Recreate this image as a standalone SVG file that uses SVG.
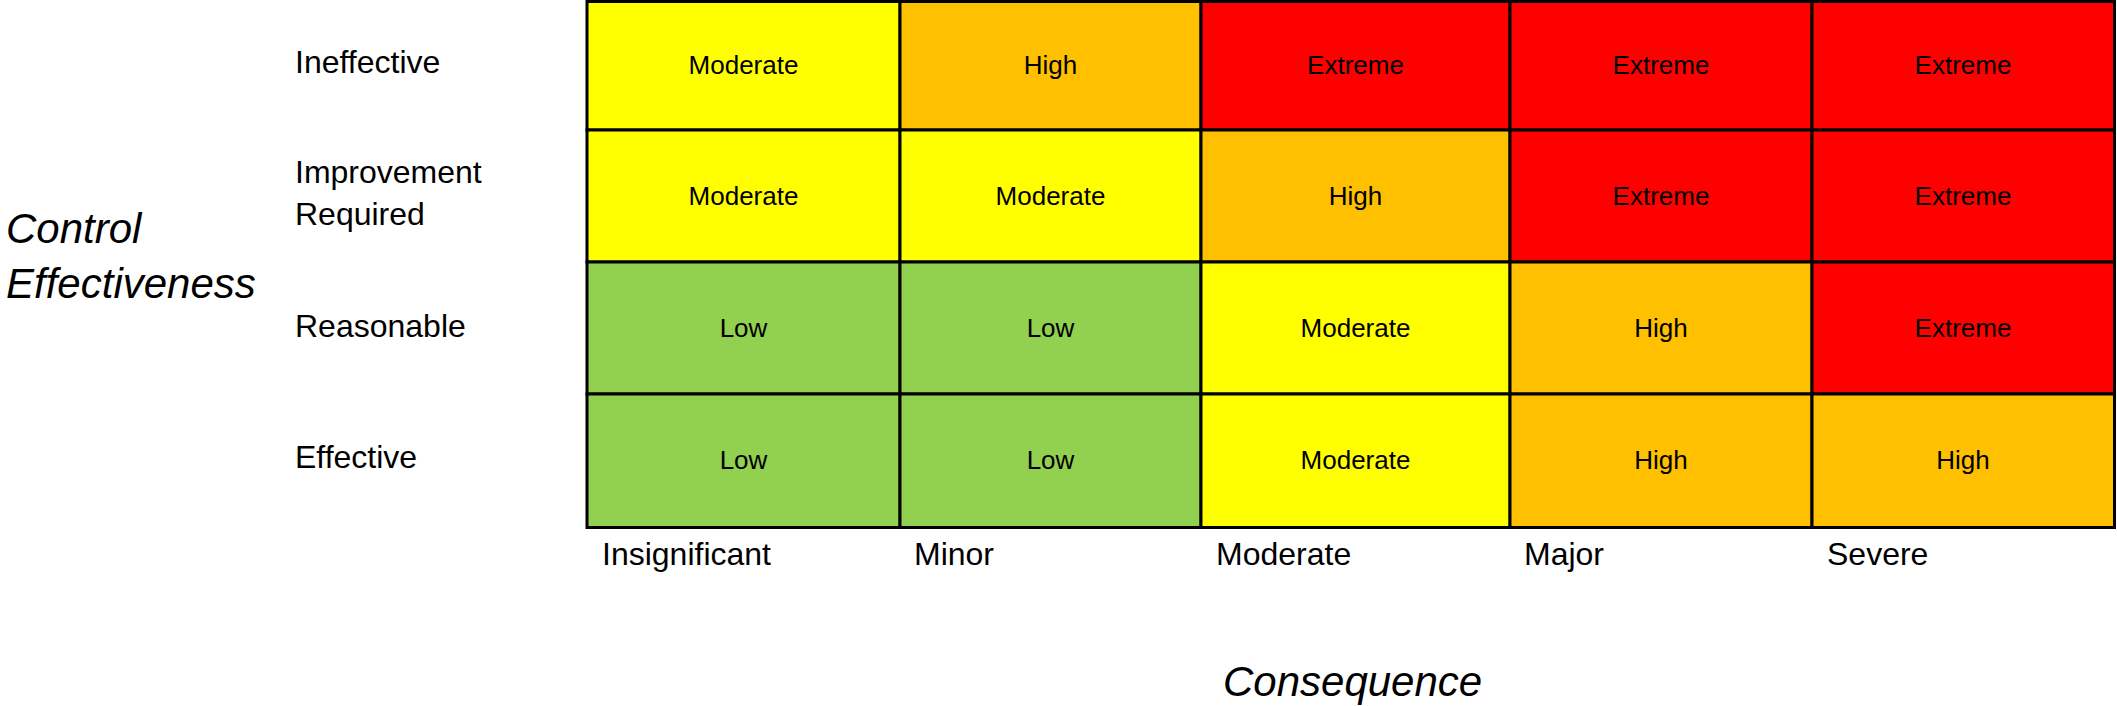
<svg xmlns="http://www.w3.org/2000/svg" width="2117" height="706" viewBox="0 0 2117 706">
<style>
.cell{stroke:#000;stroke-width:3}
.y{fill:#FFFF00}.o{fill:#FFC000}.r{fill:#FF0000}.g{fill:#92D050}
.ct{font-family:"Liberation Sans",Arial,sans-serif;font-size:26px;fill:#000;text-anchor:middle}
.lb{font-family:"Liberation Sans",Arial,sans-serif;font-size:32px;fill:#000}
.ax{font-family:"Liberation Sans",Arial,sans-serif;font-size:42px;font-style:italic;fill:#000}
</style>
<rect x="0" y="0" width="2117" height="706" fill="#fff"/>
<g id="matrix">
<g id="r1c1"><rect class="cell y" x="587" y="1.5" width="313" height="128.5"/><text class="ct" x="743.5" y="74">Moderate</text></g>
<g id="r1c2"><rect class="cell o" x="900" y="1.5" width="301" height="128.5"/><text class="ct" x="1050.5" y="74">High</text></g>
<g id="r1c3"><rect class="cell r" x="1201" y="1.5" width="309" height="128.5"/><text class="ct" x="1355.5" y="74">Extreme</text></g>
<g id="r1c4"><rect class="cell r" x="1510" y="1.5" width="302" height="128.5"/><text class="ct" x="1661" y="74">Extreme</text></g>
<g id="r1c5"><rect class="cell r" x="1812" y="1.5" width="302.5" height="128.5"/><text class="ct" x="1963" y="74">Extreme</text></g>

<g id="r2c1"><rect class="cell y" x="587" y="130" width="313" height="132"/><text class="ct" x="743.5" y="205">Moderate</text></g>
<g id="r2c2"><rect class="cell y" x="900" y="130" width="301" height="132"/><text class="ct" x="1050.5" y="205">Moderate</text></g>
<g id="r2c3"><rect class="cell o" x="1201" y="130" width="309" height="132"/><text class="ct" x="1355.5" y="205">High</text></g>
<g id="r2c4"><rect class="cell r" x="1510" y="130" width="302" height="132"/><text class="ct" x="1661" y="205">Extreme</text></g>
<g id="r2c5"><rect class="cell r" x="1812" y="130" width="302.5" height="132"/><text class="ct" x="1963" y="205">Extreme</text></g>

<g id="r3c1"><rect class="cell g" x="587" y="262" width="313" height="132"/><text class="ct" x="743.5" y="337">Low</text></g>
<g id="r3c2"><rect class="cell g" x="900" y="262" width="301" height="132"/><text class="ct" x="1050.5" y="337">Low</text></g>
<g id="r3c3"><rect class="cell y" x="1201" y="262" width="309" height="132"/><text class="ct" x="1355.5" y="337">Moderate</text></g>
<g id="r3c4"><rect class="cell o" x="1510" y="262" width="302" height="132"/><text class="ct" x="1661" y="337">High</text></g>
<g id="r3c5"><rect class="cell r" x="1812" y="262" width="302.5" height="132"/><text class="ct" x="1963" y="337">Extreme</text></g>

<g id="r4c1"><rect class="cell g" x="587" y="394" width="313" height="133.5"/><text class="ct" x="743.5" y="469">Low</text></g>
<g id="r4c2"><rect class="cell g" x="900" y="394" width="301" height="133.5"/><text class="ct" x="1050.5" y="469">Low</text></g>
<g id="r4c3"><rect class="cell y" x="1201" y="394" width="309" height="133.5"/><text class="ct" x="1355.5" y="469">Moderate</text></g>
<g id="r4c4"><rect class="cell o" x="1510" y="394" width="302" height="133.5"/><text class="ct" x="1661" y="469">High</text></g>
<g id="r4c5"><rect class="cell o" x="1812" y="394" width="302.5" height="133.5"/><text class="ct" x="1963" y="469">High</text></g>
</g>
<g id="row-labels">
<text class="lb" x="295" y="73">Ineffective</text>
<text class="lb" x="295" y="183">Improvement</text>
<text class="lb" x="295" y="225">Required</text>
<text class="lb" x="295" y="337">Reasonable</text>
<text class="lb" x="295" y="468">Effective</text>
</g>
<g id="col-labels">
<text class="lb" x="602" y="565">Insignificant</text>
<text class="lb" x="914" y="565">Minor</text>
<text class="lb" x="1216" y="565">Moderate</text>
<text class="lb" x="1524" y="565">Major</text>
<text class="lb" x="1827" y="565">Severe</text>
</g>
<g id="axis-titles">
<text class="ax" x="6" y="243">Control</text>
<text class="ax" x="6" y="298">Effectiveness</text>
<text class="ax" x="1223" y="696">Consequence</text>
</g>
<g id="connectors"/>
</svg>
